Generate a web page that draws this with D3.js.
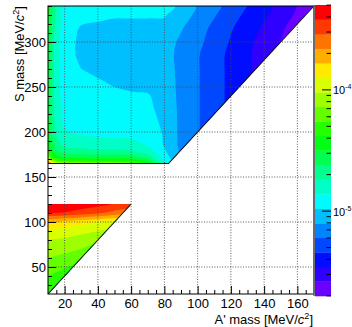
<!DOCTYPE html>
<html><head><meta charset="utf-8">
<script src="https://cdn.jsdelivr.net/npm/d3@7"></script>
<style>body{margin:0;background:#fff}svg{display:block;font-family:"Liberation Sans",Arial,Helvetica,sans-serif}</style>
</head><body><svg id="c" width="352" height="327"></svg>
<script>
// ---------------- data ----------------
const xMajorTicks = [20, 40, 60, 80, 100, 120, 140, 160];
const yMajorTicks = [50, 100, 150, 200, 250, 300];
const paletteMajor = [1e-5, 1e-4];
const zLogMin = -5.7, zLogMax = -3.3, nContours = 20;

// upper region: A' mass columns, S mass rows, log10(z) grid (rows = S)
const upperA = [10, 12, 15, 20, 30, 40, 50, 60, 70, 80, 90, 100, 110, 120, 130, 140, 150, 160, 170];
const upperS = [165, 168, 172, 178, 186, 196, 210, 225, 240, 255, 270, 285, 300, 315, 330, 340];
const upperLogZ = [
  [-3.36,-3.78,-3.96,-4.12,-4.15,-4.16,-4.16,-4.20,-4.38,-4.84,-5.10,-5.21,-5.29,-5.37,-5.44,-5.52,-5.60,-5.68,-5.76],
  [-3.78,-4.07,-4.22,-4.31,-4.34,-4.36,-4.36,-4.38,-4.52,-4.88,-5.10,-5.21,-5.29,-5.37,-5.44,-5.52,-5.60,-5.68,-5.76],
  [-4.08,-4.31,-4.44,-4.51,-4.54,-4.55,-4.55,-4.56,-4.67,-4.92,-5.11,-5.21,-5.29,-5.37,-5.44,-5.52,-5.60,-5.68,-5.76],
  [-4.26,-4.45,-4.58,-4.67,-4.69,-4.70,-4.70,-4.72,-4.79,-4.96,-5.12,-5.21,-5.29,-5.37,-5.44,-5.52,-5.60,-5.68,-5.76],
  [-4.38,-4.55,-4.68,-4.78,-4.79,-4.81,-4.81,-4.82,-4.87,-4.99,-5.13,-5.21,-5.29,-5.37,-5.44,-5.52,-5.60,-5.68,-5.76],
  [-4.44,-4.61,-4.74,-4.84,-4.86,-4.87,-4.88,-4.88,-4.91,-4.99,-5.13,-5.21,-5.29,-5.37,-5.44,-5.52,-5.60,-5.68,-5.76],
  [-4.46,-4.64,-4.79,-4.88,-4.90,-4.91,-4.92,-4.93,-4.94,-5.00,-5.13,-5.21,-5.29,-5.37,-5.44,-5.52,-5.60,-5.68,-5.76],
  [-4.48,-4.66,-4.80,-4.90,-4.92,-4.93,-4.94,-4.94,-4.96,-5.01,-5.13,-5.21,-5.29,-5.37,-5.44,-5.52,-5.60,-5.68,-5.76],
  [-4.48,-4.66,-4.81,-4.91,-4.93,-4.94,-4.96,-4.97,-4.97,-5.03,-5.13,-5.21,-5.29,-5.37,-5.44,-5.52,-5.60,-5.68,-5.76],
  [-4.48,-4.66,-4.81,-4.92,-4.96,-4.97,-4.99,-5.00,-5.02,-5.04,-5.13,-5.21,-5.29,-5.37,-5.44,-5.52,-5.60,-5.68,-5.76],
  [-4.48,-4.66,-4.81,-4.93,-4.98,-5.00,-5.02,-5.03,-5.04,-5.05,-5.13,-5.21,-5.29,-5.37,-5.44,-5.52,-5.60,-5.68,-5.76],
  [-4.48,-4.66,-4.81,-4.94,-5.00,-5.03,-5.04,-5.04,-5.05,-5.06,-5.13,-5.21,-5.29,-5.37,-5.44,-5.52,-5.60,-5.68,-5.75],
  [-4.48,-4.66,-4.81,-4.94,-5.00,-5.03,-5.03,-5.03,-5.04,-5.05,-5.12,-5.19,-5.27,-5.35,-5.43,-5.51,-5.58,-5.66,-5.74],
  [-4.46,-4.63,-4.79,-4.93,-4.99,-5.00,-5.01,-5.01,-5.01,-5.02,-5.09,-5.17,-5.25,-5.33,-5.40,-5.48,-5.56,-5.64,-5.70],
  [-4.45,-4.60,-4.75,-4.92,-4.95,-4.96,-4.97,-4.97,-4.97,-4.97,-5.04,-5.13,-5.21,-5.29,-5.37,-5.44,-5.52,-5.60,-5.68],
  [-4.44,-4.58,-4.74,-4.91,-4.93,-4.94,-4.95,-4.96,-4.96,-4.96,-4.99,-5.11,-5.19,-5.26,-5.34,-5.42,-5.50,-5.58,-5.65]
];

// lower region
const lowerA = [10, 20, 30, 40, 50, 60];
const lowerS = [20, 30, 40, 50, 60, 70, 80, 90, 100, 110, 120];
const lowerLogZ = [
  [-4.38,-4.44,-4.48,-4.50,-4.52,-4.55],
  [-4.32,-4.38,-4.42,-4.45,-4.48,-4.50],
  [-4.26,-4.31,-4.36,-4.39,-4.43,-4.45],
  [-4.20,-4.25,-4.30,-4.33,-4.37,-4.40],
  [-4.14,-4.18,-4.22,-4.26,-4.30,-4.33],
  [-4.07,-4.10,-4.14,-4.19,-4.22,-4.26],
  [-4.02,-4.04,-4.08,-4.12,-4.15,-4.19],
  [-3.92,-3.95,-3.98,-4.02,-4.06,-4.09],
  [-3.80,-3.83,-3.86,-3.90,-3.94,-3.97],
  [-3.42,-3.43,-3.47,-3.52,-3.58,-3.64],
  [-3.31,-3.32,-3.35,-3.38,-3.43,-3.48]
];

// region outlines (A', S)
const upperRegion = [[10,165],[82.5,165],[170,340],[10,340]];
const lowerRegion = [[10,20],[60,120],[10,120]];
const upperBoundary = [[10,165],[82.5,165],[170,340]];
const lowerBoundary = [[10,20],[60,120]];

// ---------------- layout ----------------
const PL = 48, PR = 314, PT = 6, PB = 294;
const x = d3.scaleLinear([10, 170], [PL, PR]);
const y = d3.scaleLinear([20, 340], [PB, PT]);
const palX0 = 315, palX1 = 331, palTop = 5, palBot = 296;
const palLin = d3.scaleLinear([zLogMin, zLogMax], [palBot, palTop]);
const palLog = d3.scaleLog([Math.pow(10, zLogMin), Math.pow(10, zLogMax)], [palBot, palTop]);

const levels = d3.range(1, nContours).map(k => zLogMin + k * (zLogMax - zLogMin) / nContours);
const colors = d3.range(nContours).map(i => d3.hsl(265 - 14 * i, 1, 0.5).formatHex());

const svg = d3.select("#c");
const defs = svg.append("defs");
const line = d3.line().x(d => x(d[0])).y(d => y(d[1]));
const smoothRing = d3.line().curve(d3.curveCatmullRomClosed.alpha(0.5));

function drawRegion(id, A, S, Z, poly) {
  defs.append("clipPath").attr("id", id).append("path").attr("d", line(poly) + "Z");
  const g = svg.append("g").attr("clip-path", `url(#${id})`);
  // grid index -> data (linear extension beyond the edges; clipped afterwards)
  const ia = d3.scaleLinear(d3.range(A.length), A);
  const is = d3.scaleLinear(d3.range(S.length), S);
  const toPx = p => [x(ia(p[0] - 0.5)), y(is(p[1] - 0.5))];
  g.append("path").attr("d", line(poly) + "Z").attr("fill", colors[0]);
  const cs = d3.contours().size([A.length, S.length]).thresholds(levels)(Z.flat());
  cs.forEach((c, k) => {
    let d = "";
    c.coordinates.forEach(polygon => polygon.forEach(ring => {
      const pts = ring.slice(0, -1).map(toPx);
      if (pts.length > 2) d += smoothRing(pts);
    }));
    if (d) g.append("path").attr("d", d).attr("fill", colors[k + 1]).attr("fill-rule", "evenodd");
  });
}
drawRegion("clipU", upperA, upperS, upperLogZ, upperRegion);
drawRegion("clipL", lowerA, lowerS, lowerLogZ, lowerRegion);

// boundary lines
svg.append("path").attr("d", line(upperBoundary)).attr("fill", "none").attr("stroke", "#111").attr("stroke-width", 1.1);
svg.append("path").attr("d", line(lowerBoundary)).attr("fill", "none").attr("stroke", "#111").attr("stroke-width", 1.1);

// grid
const grid = svg.append("g").attr("stroke", "#4a4a4a").attr("stroke-width", 0.9).attr("stroke-dasharray", "1,1.6");
xMajorTicks.forEach(v => grid.append("line").attr("x1", x(v)).attr("x2", x(v)).attr("y1", PT).attr("y2", PB));
yMajorTicks.forEach(v => grid.append("line").attr("x1", PL).attr("x2", PR).attr("y1", y(v)).attr("y2", y(v)));

// axes
const xMinor = d3.range(15, 170, 5).filter(v => v % 20 !== 0);
const yMinor = d3.range(30, 341, 10).filter(v => v % 50 !== 0);
svg.append("g").attr("transform", `translate(0,${PB})`)
  .call(d3.axisBottom(x).tickValues(xMajorTicks).tickSize(-8).tickSizeOuter(0).tickPadding(5));
svg.append("g").attr("transform", `translate(0,${PB})`)
  .call(d3.axisBottom(x).tickValues(xMinor).tickSize(-4).tickSizeOuter(0).tickFormat(""));
svg.append("g").attr("transform", `translate(${PL},0)`)
  .call(d3.axisLeft(y).tickValues(yMajorTicks).tickSize(-8).tickSizeOuter(0).tickPadding(2));
svg.append("g").attr("transform", `translate(${PL},0)`)
  .call(d3.axisLeft(y).tickValues(yMinor).tickSize(-4).tickSizeOuter(0).tickFormat(""));
svg.selectAll(".domain").remove();
svg.selectAll(".tick line").attr("stroke", "#000");
svg.selectAll(".tick text").attr("font-size", 13).attr("font-family", "'Liberation Sans',Arial,sans-serif").attr("fill", "#000");

// frame
svg.append("rect").attr("x", PL).attr("y", PT).attr("width", PR - PL).attr("height", PB - PT)
  .attr("fill", "none").attr("stroke", "#000").attr("stroke-width", 1);

// palette
const pal = svg.append("g");
d3.range(nContours).forEach(k => {
  const lo = zLogMin + k * (zLogMax - zLogMin) / nContours;
  const hi = zLogMin + (k + 1) * (zLogMax - zLogMin) / nContours;
  pal.append("rect").attr("x", palX0).attr("width", palX1 - palX0)
    .attr("y", palLin(hi)).attr("height", palLin(lo) - palLin(hi) + 0.3).attr("fill", colors[k]);
});
svg.append("line").attr("x1", 314).attr("x2", 314).attr("y1", palTop).attr("y2", palBot).attr("stroke", "#666").attr("stroke-width", 1.5);
const palMinor = [];
[-6, -5, -4].forEach(e => d3.range(1, 10).forEach(m => {
  const v = m * Math.pow(10, e);
  const lv = Math.log10(v);
  if (lv > zLogMin && lv < zLogMax) palMinor.push(v);
}));
palMinor.forEach(v => {
  const major = paletteMajor.some(m => Math.abs(Math.log10(m) - Math.log10(v)) < 1e-6);
  pal.append("line").attr("x1", palX1 - (major ? 9 : 4.5)).attr("x2", palX1)
    .attr("y1", palLog(v)).attr("y2", palLog(v)).attr("stroke", "#000").attr("stroke-width", 1);
});
paletteMajor.forEach(v => {
  const t = pal.append("text").attr("x", palX1 + 2).attr("y", palLog(v) + 4.5)
    .attr("font-size", 11).attr("fill", "#000");
  t.append("tspan").text("10");
  t.append("tspan").attr("dy", -5).attr("font-size", 7).text(String(Math.round(Math.log10(v))));
});

// axis titles
const xt = svg.append("text").attr("x", 313).attr("y", 324).attr("text-anchor", "end").attr("font-size", 13).attr("fill", "#000");
xt.append("tspan").text("A' mass [MeV/");
xt.append("tspan").attr("font-style", "italic").text("c");
xt.append("tspan").attr("dy", -5).attr("font-size", 9).text("2");
xt.append("tspan").attr("dy", 5).text("]");
const yt = svg.append("text").attr("transform", "translate(24,6) rotate(-90)").attr("text-anchor", "end").attr("font-size", 13).attr("fill", "#000");
yt.append("tspan").text("S mass [MeV/");
yt.append("tspan").attr("font-style", "italic").text("c");
yt.append("tspan").attr("dy", -5).attr("font-size", 9).text("2");
yt.append("tspan").attr("dy", 5).text("]");
</script></body></html>
